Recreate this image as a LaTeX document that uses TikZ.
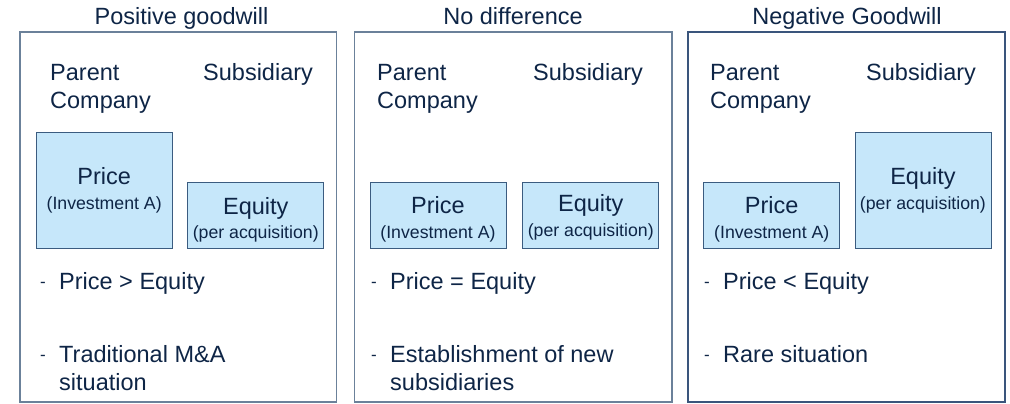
\documentclass[tikz,border=0pt]{standalone}
\usepackage{fontspec}
\setmainfont{Liberation Sans}
\definecolor{txt}{HTML}{0E2546}
\definecolor{boxfill}{HTML}{C6E7FA}
\definecolor{boxline}{HTML}{3B5C80}
\definecolor{panelline}{HTML}{6B819A}
\definecolor{panelline3}{HTML}{3A557C}
\tikzset{
  big/.style={font=\fontsize{23.5}{28}\selectfont, text=txt, inner sep=0pt},
  small/.style={font=\fontsize{17.7}{21}\selectfont, text=txt, inner sep=0pt},
  dashmark/.style={font=\fontsize{17}{20}\selectfont, text=txt, inner sep=0pt, anchor=base west},
  panel/.style={draw=panelline, line width=1.4pt},
  tallbox/.style={draw=boxline, fill=boxfill, line width=0.9pt, minimum width=136pt, minimum height=116pt, inner sep=0pt, anchor=north west},
  shortbox/.style={draw=boxline, fill=boxfill, line width=0.9pt, minimum width=136pt, minimum height=66pt, inner sep=0pt, anchor=north west},
}
\begin{document}
\begin{tikzpicture}[x=1pt,y=-1pt]
\useasboundingbox (0,0) rectangle (1010,404);
% panels
\draw[panel] (20,32) rectangle (336.5,402);
\draw[panel] (354.7,32) rectangle (672,402);
\draw[panel, draw=panelline3] (688,32) rectangle (1005,402);
% titles
\node[big, anchor=base] (t1) at (181.5,24.5) {Positive goodwill};
\node[big, anchor=base] (t2) at (513,24.5) {No difference};
\node[big, anchor=base] (t3) at (847,24.5) {Negative Goodwill};
% headers (two-line nodes: base = last line)
\node[big, anchor=base west, align=left] (pc1) at (50,108.5) {Parent\\Company};
\node[big, anchor=base west] (s1) at (203,80.5) {Subsidiary};
\node[big, anchor=base west, align=left] (pc2) at (377,108.5) {Parent\\Company};
\node[big, anchor=base west] (s2) at (533,80.5) {Subsidiary};
\node[big, anchor=base west, align=left] (pc3) at (710,108.5) {Parent\\Company};
\node[big, anchor=base west] (s3) at (866,80.5) {Subsidiary};
% boxes panel 1
\node[tallbox] (b1p) at (35.7,131.7) {};
\node[big, anchor=base] (b1pa) at ([yshift=-53pt]b1p.north) {Price};
\node[small, anchor=base] (b1pb) at ([yshift=-78pt]b1p.north) {(Investment A)};
\node[shortbox] (b1e) at (187.3,181.7) {};
\node[big, anchor=base] (b1ea) at ([yshift=-32.5pt]b1e.north) {Equity};
\node[small, anchor=base] (b1eb) at ([yshift=-56.5pt]b1e.north) {(per acquisition)};
% boxes panel 2
\node[shortbox] (b2p) at (369.5,181.7) {};
\node[big, anchor=base] (b2pa) at ([yshift=-31.5pt]b2p.north) {Price};
\node[small, anchor=base] (b2pb) at ([yshift=-57pt]b2p.north) {(Investment A)};
\node[shortbox] (b2e) at (522.3,181.7) {};
\node[big, anchor=base] (b2ea) at ([yshift=-30pt]b2e.north) {Equity};
\node[small, anchor=base] (b2eb) at ([yshift=-55pt]b2e.north) {(per acquisition)};
% boxes panel 3
\node[shortbox] (b3p) at (703.3,181.7) {};
\node[big, anchor=base] (b3pa) at ([yshift=-31.5pt]b3p.north) {Price};
\node[small, anchor=base] (b3pb) at ([yshift=-57pt]b3p.north) {(Investment A)};
\node[tallbox] (b3e) at (854.5,131.7) {};
\node[big, anchor=base] (b3ea) at ([yshift=-53pt]b3e.north) {Equity};
\node[small, anchor=base] (b3eb) at ([yshift=-78pt]b3e.north) {(per acquisition)};
% bullets panel 1
\node[dashmark] (d11) at (40,287) {-};
\node[big, anchor=base west] (l11) at (59,289) {Price > Equity};
\node[dashmark] (d12) at (40,360) {-};
\node[big, anchor=base west, align=left] (l12) at (59,390) {Traditional M\&A\\situation};
% bullets panel 2
\node[dashmark] (d21) at (371,287) {-};
\node[big, anchor=base west] (l21) at (390,289) {Price = Equity};
\node[dashmark] (d22) at (371,360) {-};
\node[big, anchor=base west, align=left] (l22) at (390,390) {Establishment of new\\subsidiaries};
% bullets panel 3
\node[dashmark] (d31) at (704,287) {-};
\node[big, anchor=base west] (l31) at (723,289) {Price < Equity};
\node[dashmark] (d32) at (704,360) {-};
\node[big, anchor=base west] (l32) at (723,362) {Rare situation};
\end{tikzpicture}
\end{document}
